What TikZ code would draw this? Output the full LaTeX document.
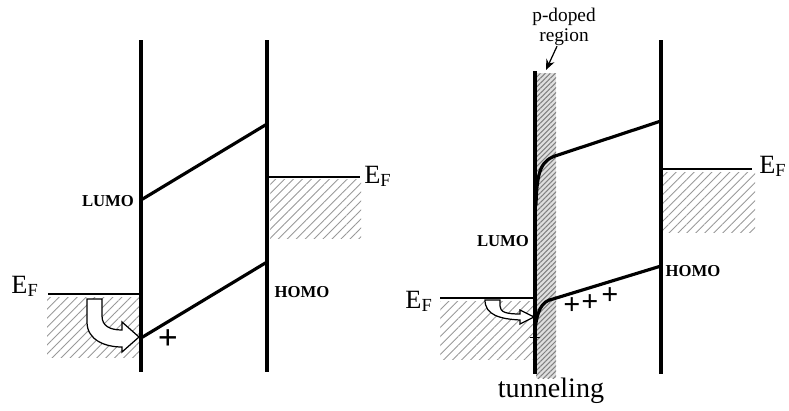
\documentclass[tikz,border=0pt]{standalone}
\usepackage{fontspec}
\setmainfont{Liberation Serif}
\usetikzlibrary{arrows.meta, patterns.meta}

\begin{document}
\begin{tikzpicture}[x=0.02cm, y=-0.02cm,
    band/.style={line width=2.2pt},
    level/.style={line width=1.8pt},
    fermi/.style={line width=1.1pt},
    hatch/.style={pattern={Lines[angle=45, distance=3.6pt, line width=0.5pt]}, pattern color=gray!80},
    dense/.style={pattern={Lines[angle=45, distance=2pt, line width=0.6pt]}, pattern color=gray},
    flow/.style={fill=white, draw, line width=0.7pt},
    ef/.style={font=\fontsize{15}{18}\selectfont, inner sep=0pt},
    orb/.style={font=\bfseries\fontsize{9.5}{10}\selectfont, inner sep=0pt},
    every node/.style={inner sep=0pt}]

    \useasboundingbox (0,0) rectangle (789,410);

    % ---------- left picture ----------

    % hatched metal
    \fill[hatch] (47,297) rectangle (140,357);
    \fill[hatch] (270,179) rectangle (361,238);

    % interfaces
    \draw[band] (141,40) -- (141,372);
    \draw[band] (267,40) -- (267,372);

    % LUMO and HOMO
    \draw[level] (141,200) -- (267,124);
    \draw[level] (141,338) -- (267,262);

    % Fermi levels
    \draw[fermi] (48,294) -- (141,294);
    \draw[fermi] (267,177) -- (360,177);
    \node[ef, anchor=base east] (efA) at (39,293) {E\textsubscript{F}};
    \node[ef, anchor=base west] (efB) at (364,183) {E\textsubscript{F}};

    \node[orb] (lumoA) at (108,201) {LUMO};
    \node[orb] (homoA) at (302,292) {HOMO};

    % injection arrow
    \draw[flow] (87,299) -- (87,322) .. controls (87,340) and (105,347) .. (122,347)
        -- (122,352) -- (139,337) -- (122,322) -- (122,330)
        .. controls (110,330) and (102,326) .. (102,316) -- (102,299) -- cycle;
    \node[font=\bfseries\fontsize{20}{22}\selectfont] (plusA) at (168,340) {+};

    % ---------- right picture ----------

    % hatched metal
    \fill[hatch] (440,301) rectangle (534,359);
    \fill[hatch] (662,172) rectangle (755,232);

    % p-doped region
    \fill[gray!25] (536,73) rectangle (556,378);
    \fill[dense] (536,73) rectangle (556,378);
    \coordinate (stripTop) at (546,70);

    % interfaces
    \draw[band] (535,71) -- (535,374);
    \draw[band] (661,40) -- (661,374);

    % LUMO and HOMO with band bending
    \draw[level] (536,205) .. controls (537,170) and (541,160) .. (558,155) -- (661,121);
    \draw[level] (535,330) .. controls (537,312) and (541,301) .. (553,299) -- (661,266);

    % Fermi levels
    \draw[fermi] (440,298) -- (535,298);
    \draw[fermi] (661,169) -- (752,169);
    \node[ef, anchor=base east] (efC) at (433,308) {E\textsubscript{F}};
    \node[ef, anchor=base west] (efD) at (759,173) {E\textsubscript{F}};

    \node[orb] (lumoB) at (503,241) {LUMO};
    \node[orb] (homoB) at (693,271) {HOMO};

    % tunneling arrow
    \draw[flow] (485,300) .. controls (485,315) and (500,319) .. (520,320)
        -- (520,324) -- (534,317) -- (520,310) -- (520,314)
        .. controls (506,314) and (500,312) .. (500,306) -- (500,300) -- cycle;
    \node[font=\fontsize{11}{11}\selectfont] (minus) at (535,340) {--};
    \node[font=\bfseries\fontsize{17}{18}\selectfont] (plusB) at (572,306) {+};
    \node[font=\bfseries\fontsize{17}{18}\selectfont] (plusC) at (590,303) {+};
    \node[font=\bfseries\fontsize{17}{18}\selectfont] (plusD) at (610,296) {+};

    \node[font=\fontsize{16}{18}\selectfont, anchor=base] (tunnel) at (551,397) {tunneling};

    % label of doped layer
    \node[font=\fontsize{11}{11.5}\selectfont, align=center] (pdoped) at (564,27) {p-doped\\region};
    \draw[-{Stealth[length=6pt, width=5pt]}, line width=0.7pt] ([xshift=-0.14cm]pdoped.south) -- (stripTop);

\end{tikzpicture}
\end{document}
